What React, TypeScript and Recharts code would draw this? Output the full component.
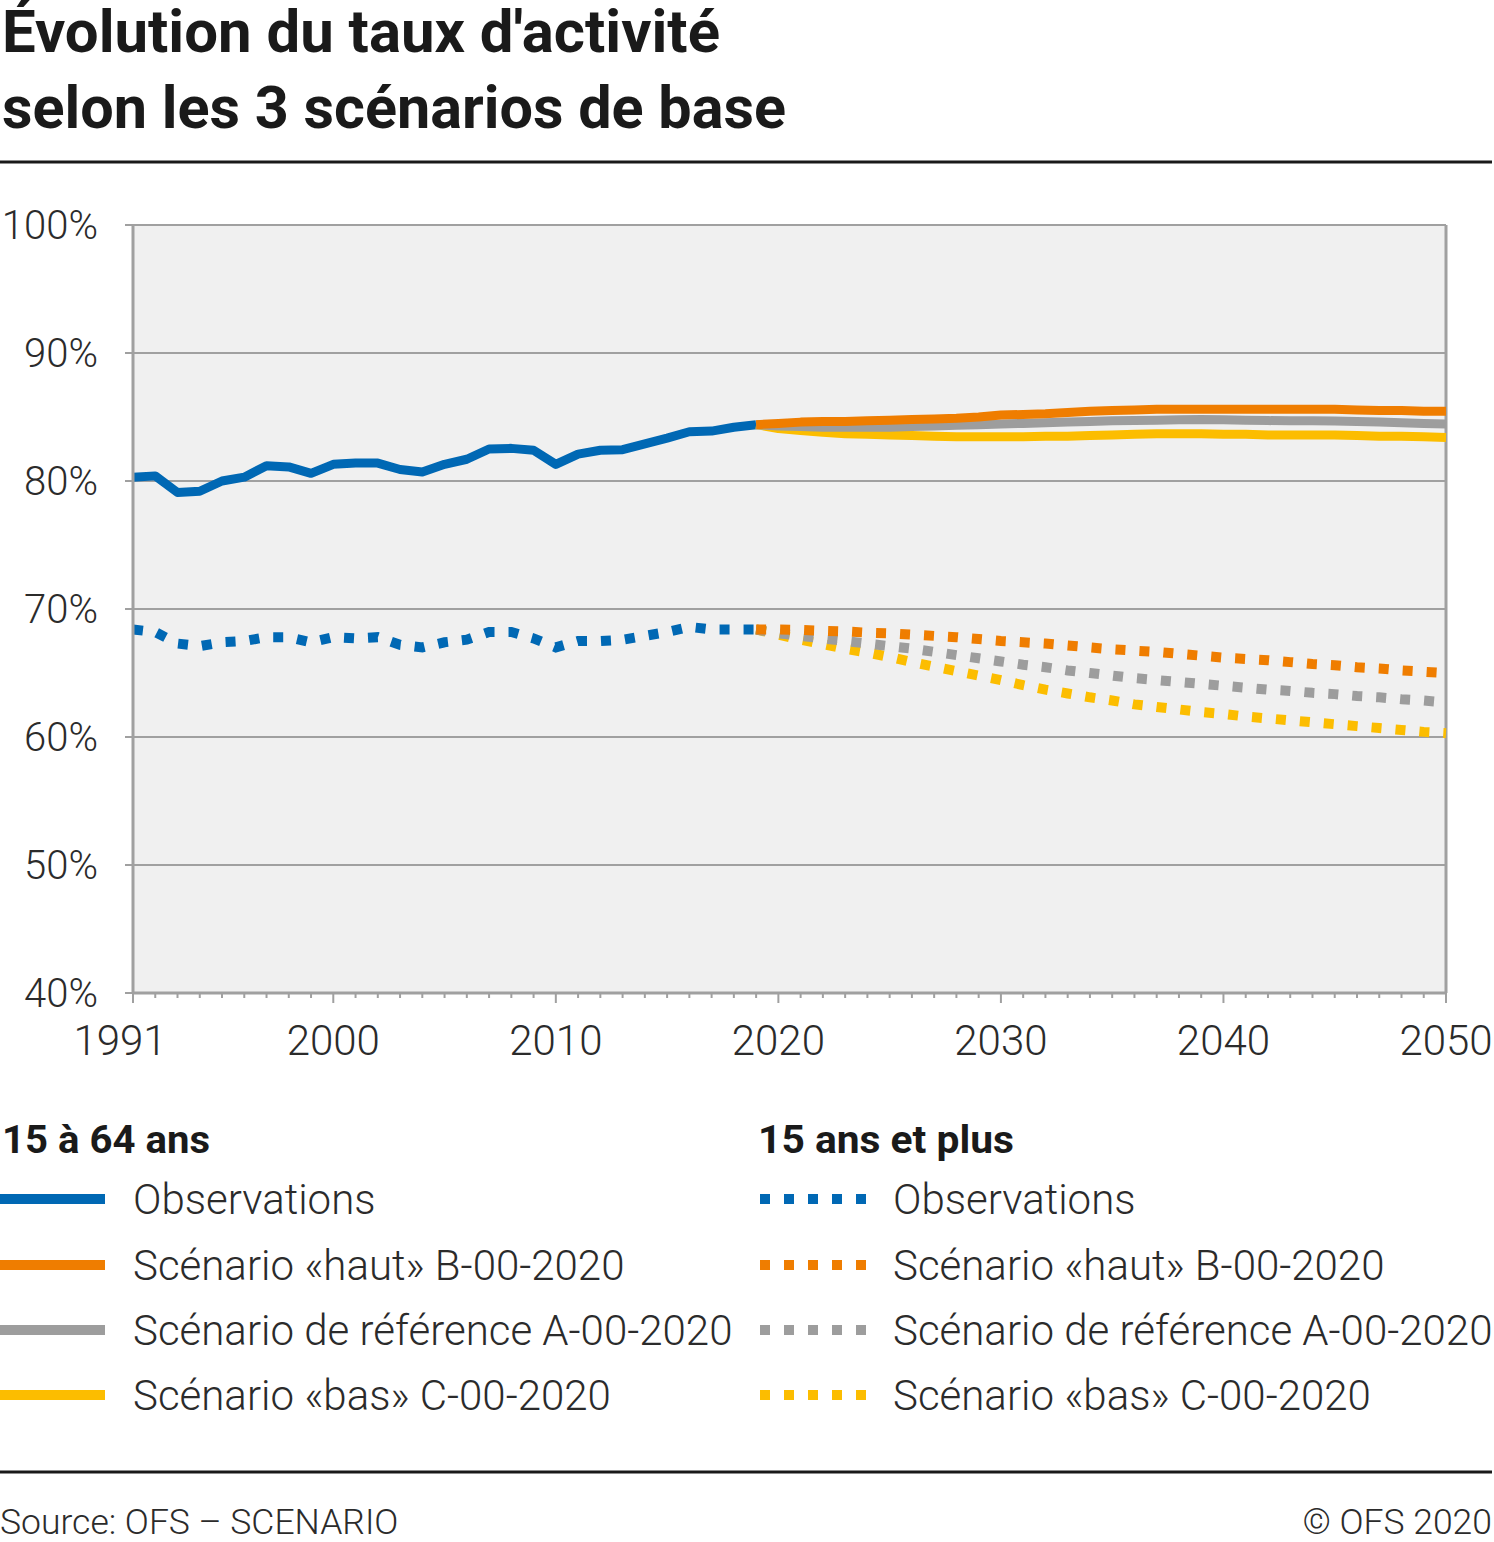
import { LineChart, Line, XAxis, YAxis, CartesianGrid, ReferenceLine } from "recharts";

// years
const obsYears = [
  1991, 1992, 1993, 1994, 1995, 1996, 1997, 1998, 1999, 2000,
  2001, 2002, 2003, 2004, 2005, 2006, 2007, 2008, 2009, 2010,
  2011, 2012, 2013, 2014, 2015, 2016, 2017, 2018, 2019,
];
const scenYears = [
  2019, 2020, 2021, 2022, 2023, 2024, 2025, 2026, 2027, 2028, 2029, 2030,
  2031, 2032, 2033, 2034, 2035, 2036, 2037, 2038, 2039, 2040,
  2041, 2042, 2043, 2044, 2045, 2046, 2047, 2048, 2049, 2050,
];

// 15 à 64 ans
const obs1564 = [
  80.3, 80.4, 79.1, 79.2, 80.0, 80.3, 81.2, 81.1, 80.6, 81.3,
  81.4, 81.4, 80.9, 80.7, 81.3, 81.7, 82.5, 82.55, 82.4, 81.3,
  82.1, 82.4, 82.45, 82.9, 83.35, 83.85, 83.9, 84.2, 84.4,
];
const haut1564 = [
  84.4, 84.5, 84.6, 84.65, 84.65, 84.7, 84.75, 84.8, 84.85, 84.9, 85.0, 85.15,
  85.2, 85.25, 85.35, 85.45, 85.5, 85.55, 85.6, 85.6, 85.6, 85.6,
  85.6, 85.6, 85.6, 85.6, 85.6, 85.55, 85.5, 85.5, 85.45, 85.45,
];
const ref1564 = [
  84.4, 84.3, 84.25, 84.2, 84.2, 84.2, 84.2, 84.25, 84.3, 84.35, 84.4, 84.45,
  84.5, 84.55, 84.6, 84.65, 84.7, 84.72, 84.75, 84.78, 84.8, 84.78,
  84.75, 84.72, 84.7, 84.7, 84.68, 84.65, 84.6, 84.55, 84.5, 84.45,
];
const bas1564 = [
  84.4, 84.1, 83.95, 83.8, 83.7, 83.65, 83.6, 83.55, 83.5, 83.45, 83.45, 83.45,
  83.45, 83.5, 83.5, 83.55, 83.6, 83.65, 83.7, 83.7, 83.7, 83.65,
  83.65, 83.6, 83.6, 83.6, 83.6, 83.55, 83.5, 83.5, 83.45, 83.4,
];

// 15 ans et plus
const obs15p = [
  68.4, 68.2, 67.3, 67.1, 67.4, 67.5, 67.8, 67.8, 67.4, 67.8,
  67.7, 67.8, 67.2, 67.0, 67.4, 67.6, 68.2, 68.2, 67.7, 67.0,
  67.5, 67.5, 67.6, 67.9, 68.2, 68.6, 68.4, 68.4, 68.4,
];
const haut15p = [
  68.4, 68.4, 68.37, 68.3, 68.25, 68.15, 68.1, 68.0, 67.9, 67.8, 67.65, 67.5,
  67.4, 67.3, 67.15, 67.0, 66.85, 66.75, 66.65, 66.5, 66.35, 66.2,
  66.1, 66.0, 65.85, 65.7, 65.6, 65.45, 65.35, 65.2, 65.1, 65.0,
];
const ref15p = [
  68.4, 68.1, 67.9, 67.7, 67.5, 67.3, 67.1, 66.9, 66.65, 66.4, 66.15, 65.9,
  65.65, 65.45, 65.2, 65.0, 64.8, 64.6, 64.45, 64.3, 64.15, 64.0,
  63.85, 63.7, 63.6, 63.45, 63.35, 63.2, 63.1, 62.95, 62.85, 62.7,
];
const bas15p = [
  68.4, 68.0, 67.6, 67.25, 66.9, 66.6, 66.25, 65.85, 65.5, 65.15, 64.8, 64.45,
  64.05, 63.7, 63.4, 63.1, 62.85, 62.55, 62.35, 62.15, 61.95, 61.8,
  61.6, 61.45, 61.3, 61.15, 61.0, 60.85, 60.7, 60.55, 60.4, 60.3,
];

const yTicks = [40, 50, 60, 70, 80, 90, 100];
const xLabels = [1991, 2000, 2010, 2020, 2030, 2040, 2050];

const BLUE = "#0068b4";
const ORANGE = "#ef7d00";
const GREY = "#9d9d9d";
const YELLOW = "#fcbd00";
const AXIS = "#a0a0a0";
const TEXT = "#2b2b2b";
const FONT = "Roboto, 'Noto Sans', sans-serif";
const DOTS = "10 14";

const allYears = Array.from(new Set([...obsYears, ...scenYears]));
const data = allYears.map((year) => {
  const oi = obsYears.indexOf(year);
  const si = scenYears.indexOf(year);
  return {
    year,
    obs1564: oi >= 0 ? obs1564[oi] : null,
    obs15p: oi >= 0 ? obs15p[oi] : null,
    haut1564: si >= 0 ? haut1564[si] : null,
    ref1564: si >= 0 ? ref1564[si] : null,
    bas1564: si >= 0 ? bas1564[si] : null,
    haut15p: si >= 0 ? haut15p[si] : null,
    ref15p: si >= 0 ? ref15p[si] : null,
    bas15p: si >= 0 ? bas15p[si] : null,
  };
});

const XTick = (props: any) => {
  const { x, y, payload } = props;
  const major = xLabels.includes(payload.value);
  const dx = payload.value === 1991 ? -13 : 0;
  return (
    <g>
      <line x1={x} x2={x} y1={y} y2={y + (major ? 10 : 5)} stroke={AXIS} strokeWidth={2} />
      {major && (
        <text
          x={x + dx}
          y={y + 62}
          textAnchor="middle"
          fontSize={42}
          fontWeight={300}
          fontFamily={FONT}
          fill={TEXT}
        >
          {payload.value}
        </text>
      )}
    </g>
  );
};

const leftItems = [
  { label: "Observations", color: BLUE },
  { label: "Scénario «haut» B-00-2020", color: ORANGE },
  { label: "Scénario de référence A-00-2020", color: GREY },
  { label: "Scénario «bas» C-00-2020", color: YELLOW },
];
const rightItems = [
  { label: "Observations", color: BLUE },
  { label: "Scénario «haut» B-00-2020", color: ORANGE },
  { label: "Scénario de référence A-00-2020", color: GREY },
  { label: "Scénario «bas» C-00-2020", color: YELLOW },
];
const legendRows = [1199, 1265, 1330, 1395];

export default function App() {
  return (
    <div style={{ position: "absolute", left: 0, top: 0, width: 1494, height: 1542, background: "#fff" }}>
      <div style={{ position: "absolute", left: 0, top: 180 }}>
        <LineChart
          width={1494}
          height={900}
          data={data}
          margin={{ top: 45, right: 48, left: 0, bottom: 0 }}
        >
          <CartesianGrid
            vertical={false}
            stroke={AXIS}
            strokeWidth={2}
            fill="#f0f0f0"
            fillOpacity={1}
          />
          <XAxis
            dataKey="year"
            type="number"
            domain={[1991, 2050]}
            ticks={allYears}
            interval={0}
            height={87}
            tickSize={0}
            tickMargin={0}
            tickLine={false}
            axisLine={{ stroke: AXIS, strokeWidth: 3 }}
            tick={<XTick />}
          />
          <YAxis
            type="number"
            domain={[40, 100]}
            ticks={yTicks}
            width={133}
            tickSize={8}
            tickMargin={27}
            tickLine={{ stroke: AXIS, strokeWidth: 2 }}
            axisLine={{ stroke: AXIS, strokeWidth: 3 }}
            tickFormatter={(v: number) => `${v}%`}
            tick={{ fontSize: 40, fontWeight: 300, fontFamily: FONT, fill: TEXT }}
          />
          <ReferenceLine x={2050} stroke={AXIS} strokeWidth={3} />
          <Line dataKey="obs1564" stroke={BLUE} strokeWidth={9} dot={false} isAnimationActive={false} strokeLinejoin="round" />
          <Line dataKey="obs15p" stroke={BLUE} strokeWidth={10} strokeDasharray={DOTS} dot={false} isAnimationActive={false} />
          <Line dataKey="bas1564" stroke={YELLOW} strokeWidth={9} dot={false} isAnimationActive={false} strokeLinejoin="round" />
          <Line dataKey="ref1564" stroke={GREY} strokeWidth={9} dot={false} isAnimationActive={false} strokeLinejoin="round" />
          <Line dataKey="haut1564" stroke={ORANGE} strokeWidth={9} dot={false} isAnimationActive={false} strokeLinejoin="round" />
          <Line dataKey="bas15p" stroke={YELLOW} strokeWidth={10} strokeDasharray={DOTS} dot={false} isAnimationActive={false} />
          <Line dataKey="ref15p" stroke={GREY} strokeWidth={10} strokeDasharray={DOTS} dot={false} isAnimationActive={false} />
          <Line dataKey="haut15p" stroke={ORANGE} strokeWidth={10} strokeDasharray={DOTS} dot={false} isAnimationActive={false} />
        </LineChart>
      </div>
      <svg
        width={1494}
        height={1542}
        style={{ position: "absolute", left: 0, top: 0, pointerEvents: "none" }}
        fontFamily={FONT}
      >
        <text x={2} y={52} fontSize={59} fontWeight={700} fill="#1a1a1a" textLength={718} lengthAdjust="spacingAndGlyphs">
          Évolution du taux d'activité
        </text>
        <text x={2} y={128} fontSize={60} fontWeight={700} fill="#1a1a1a" textLength={784} lengthAdjust="spacingAndGlyphs">
          selon les 3 scénarios de base
        </text>
        <line x1={0} x2={1492} y1={162} y2={162} stroke="#1a1a1a" strokeWidth={3} />

        <text x={2} y={1153} fontSize={39} fontWeight={700} fill="#1a1a1a" textLength={208} lengthAdjust="spacingAndGlyphs">
          15 à 64 ans
        </text>
        <text x={758} y={1153} fontSize={39} fontWeight={700} fill="#1a1a1a" textLength={256} lengthAdjust="spacingAndGlyphs">
          15 ans et plus
        </text>
        {leftItems.map((it, i) => (
          <g key={"l" + i}>
            <line x1={0} x2={105} y1={legendRows[i]} y2={legendRows[i]} stroke={it.color} strokeWidth={10} />
            <text x={133} y={legendRows[i] + 15} fontSize={42} fontWeight={300} fill={TEXT}>
              {it.label}
            </text>
          </g>
        ))}
        {rightItems.map((it, i) => (
          <g key={"r" + i}>
            <line x1={760} x2={866} y1={legendRows[i]} y2={legendRows[i]} stroke={it.color} strokeWidth={10} strokeDasharray={DOTS} />
            <text x={893} y={legendRows[i] + 15} fontSize={42} fontWeight={300} fill={TEXT}>
              {it.label}
            </text>
          </g>
        ))}

        <line x1={0} x2={1492} y1={1472} y2={1472} stroke="#1a1a1a" strokeWidth={3} />
        <text x={0} y={1534} fontSize={35.5} fontWeight={300} fill={TEXT}>
          Source: OFS – SCENARIO
        </text>
        <text x={1492} y={1534} fontSize={35.5} fontWeight={300} fill={TEXT} textAnchor="end">
          © OFS 2020
        </text>
      </svg>
    </div>
  );
}
